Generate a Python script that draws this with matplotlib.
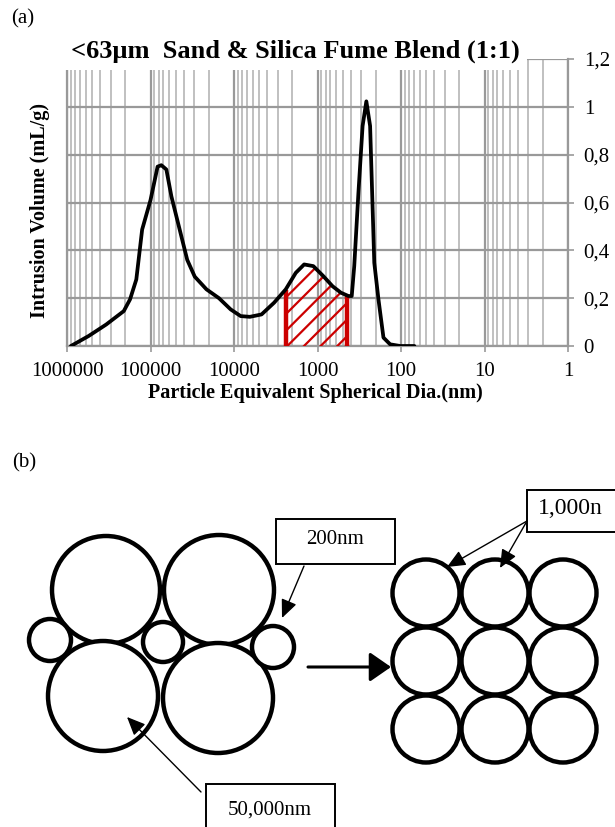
import numpy as np
import matplotlib
matplotlib.use("Agg")
import matplotlib.pyplot as plt
from matplotlib.patches import Circle, Rectangle
from matplotlib.ticker import FixedLocator, NullFormatter, LogLocator

# ---------------- data (panel a) ----------------
log_diam = [5.953, 5.74, 5.53, 5.32, 5.245, 5.17, 5.10, 5.00, 4.915, 4.87, 4.81,
            4.75, 4.66, 4.56, 4.47, 4.33, 4.18, 4.04, 3.92, 3.81, 3.67, 3.52,
            3.38, 3.26, 3.16, 3.05, 2.93, 2.82, 2.72, 2.63, 2.59, 2.56, 2.51,
            2.46, 2.415, 2.37, 2.32, 2.27, 2.21, 2.13, 2.01, 1.84]
diam_nm = [10 ** v for v in log_diam]
volume = [0.0, 0.042, 0.090, 0.146, 0.195, 0.278, 0.487, 0.61, 0.75, 0.756, 0.738,
          0.626, 0.50, 0.36, 0.29, 0.237, 0.20, 0.153, 0.125, 0.122, 0.132, 0.181,
          0.237, 0.306, 0.341, 0.334, 0.292, 0.25, 0.223, 0.209, 0.209, 0.334, 0.64,
          0.92, 1.023, 0.92, 0.348, 0.195, 0.035, 0.007, 0.0, 0.0]
hatch_range_nm = [2410, 447]
x_ticks = [1000000, 100000, 10000, 1000, 100, 10, 1]
x_ticklabels = ["1000000", "100000", "10000", "1000", "100", "10", "1"]
y_ticks = [0, 0.2, 0.4, 0.6, 0.8, 1.0, 1.2]
y_ticklabels = ["0", "0,2", "0,4", "0,6", "0,8", "1", "1,2"]
title = "<63\u00b5m  Sand & Silica Fume Blend (1:1)"
xlabel = "Particle Equivalent Spherical Dia.(nm)"
ylabel = "Intrusion Volume (mL/g)"

# ---------------- data (panel b, pixel layout of the sketch) ----------------
big_circles = [(106, 590, 54), (219, 590, 55), (103, 696, 55), (218, 698, 55)]
small_circles = [(50, 640, 21), (163, 642, 20), (273, 647, 21)]
grid_cols = [426, 495, 563]
grid_rows = [593, 661, 729]
grid_r = 33.5
label_boxes = [  # x0, y0, x1, y1, text, tx, ha, size
    (276, 519, 395, 564, "200nm", 335, "center", 15),
    (527, 490, 660, 532, "1,000n", 538, "left", 17),
    (206, 784, 335, 830, "50,000nm", 270, "center", 15),
]
pointer_arrows = [  # tail -> head
    ((304, 566), (282, 618)),
    ((527, 521), (447, 567)),
    ((527, 521), (500, 568)),
    ((201, 792), (127, 717)),
]

plt.rcParams["font.family"] = ["Liberation Serif", "DejaVu Serif"]
plt.rcParams["hatch.color"] = "#cc0000"
plt.rcParams["hatch.linewidth"] = 1.6

W, H = 615, 827
fig = plt.figure(figsize=(W / 100, H / 100), dpi=100)

# ---------------- panel (a) ----------------
L, R, T, B = 67, 568, 59, 346
ax = fig.add_axes([L / W, 1 - B / H, (R - L) / W, (B - T) / H])
ax.set_xscale("log")
ax.set_xlim(1e6, 1)
ax.set_ylim(0, 1.2)

ax.xaxis.set_major_locator(FixedLocator(x_ticks))
ax.set_xticklabels(x_ticklabels)
ax.xaxis.set_minor_locator(LogLocator(base=10, subs=np.arange(2, 10), numticks=20))
ax.xaxis.set_minor_formatter(NullFormatter())
ax.yaxis.tick_right()
ax.set_yticks(y_ticks)
ax.set_yticklabels(y_ticklabels)

ax.grid(True, which="major", axis="both", color="#999999", lw=1.6)
ax.grid(True, which="minor", axis="x", color="#c0c0c0", lw=1.4)
ax.set_axisbelow(True)
for s in ["left", "right", "bottom", "top"]:
    ax.spines[s].set_color("#999999")
    ax.spines[s].set_linewidth(1.6)
ax.spines["top"].set_visible(False)
ax.tick_params(axis="both", which="major", length=6 * 0.72, width=1.2, color="#999999",
               labelsize=15, direction="out")
ax.tick_params(axis="x", which="minor", length=0)
ax.tick_params(axis="x", pad=7)
ax.tick_params(axis="y", pad=7)

x = np.array(diam_nm)
y = np.array(volume)
ax.plot(x, y, color="black", lw=2.7, zorder=4, solid_capstyle="round")

# hatched region
lx = np.log10(x)
x0, x1 = hatch_range_nm
y0 = np.interp(np.log10(x0), lx[::-1], y[::-1])
y1 = np.interp(np.log10(x1), lx[::-1], y[::-1])
mask = (x < x0) & (x > x1)
hx = np.concatenate([[x0], x[mask], [x1]])
hy = np.concatenate([[y0], y[mask], [y1]])
ax.fill_between(hx, 0, hy, facecolor="none", edgecolor="#cc0000", hatch="//", lw=0, zorder=3)
ax.plot([x0, x0], [0, y0], color="#cc0000", lw=3.2, zorder=3.5, solid_capstyle="butt")
ax.plot([x1, x1], [0, y1], color="#cc0000", lw=3.2, zorder=3.5, solid_capstyle="butt")

# title with white background covering the top of the grid
ax.add_patch(Rectangle((-0.012, (B - 70) / (B - T)), (527 - L) / (R - L) + 0.012, 0.2,
                       transform=ax.transAxes, facecolor="white", edgecolor="none",
                       zorder=5, clip_on=False))
fig.text(71 / W, 1 - 51 / H, title, fontsize=19, fontweight="bold", ha="left",
         va="center", zorder=6)

ax.set_xlabel(xlabel, fontsize=14.5, fontweight="bold")
ax.xaxis.set_label_coords((315 - L) / (R - L), (B - 383) / (B - T))
ax.yaxis.set_label_position("left")
ax.set_ylabel(ylabel, fontsize=14.5, fontweight="bold")
ax.yaxis.set_label_coords((50 - L) / (R - L), (B - 210) / (B - T))

fig.text(23 / W, 1 - 19 / H, "(a)", fontsize=15, ha="center", va="center")

# ---------------- panel (b) ----------------
ax2 = fig.add_axes([0, 0, 1, 1], zorder=10)
ax2.set_xlim(0, W)
ax2.set_ylim(H, 0)
ax2.axis("off")

fig.text(24 / W, 1 - 463 / H, "(b)", fontsize=15, ha="center", va="center")

for cx, cy, r in big_circles + small_circles:
    ax2.add_patch(Circle((cx, cy), r, facecolor="white", edgecolor="black", lw=3.2))
for cy in grid_rows:
    for cx in grid_cols:
        ax2.add_patch(Circle((cx, cy), grid_r, facecolor="white", edgecolor="black", lw=3.2))

# big transition arrow
ax2.annotate("", xy=(391, 667), xytext=(308, 667),
             arrowprops=dict(arrowstyle="-|>,head_length=0.65,head_width=0.45",
                             mutation_scale=20, color="black", lw=2.2,
                             shrinkA=0, shrinkB=0))

for x0b, y0b, x1b, y1b, txt, tx, ha, fs in label_boxes:
    ax2.add_patch(Rectangle((x0b, y0b), x1b - x0b, y1b - y0b, facecolor="white",
                            edgecolor="black", lw=1.4, clip_on=False))
    ax2.text(tx, (y0b + y1b) / 2 + (-2 if y1b < 800 else 3), txt, fontsize=fs,
             ha=ha, va="center")

for (tx0, ty0), (hx0, hy0) in pointer_arrows:
    ax2.annotate("", xy=(hx0, hy0), xytext=(tx0, ty0),
                 arrowprops=dict(arrowstyle="-|>,head_length=0.8,head_width=0.35",
                                 mutation_scale=14, color="black", lw=1.0,
                                 shrinkA=0, shrinkB=0))

fig.savefig("out.png", dpi=100)
